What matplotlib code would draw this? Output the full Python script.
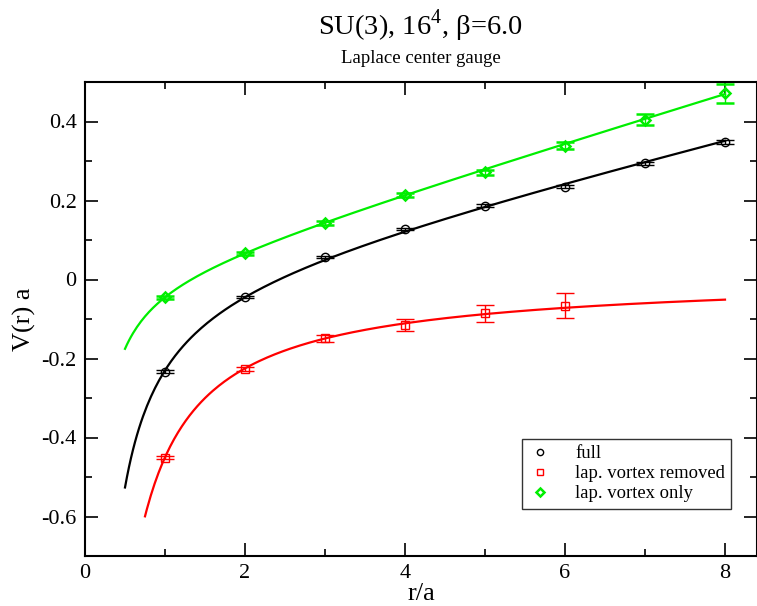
import numpy as np
import matplotlib
matplotlib.use('Agg')
import matplotlib.pyplot as plt
from matplotlib.lines import Line2D
from matplotlib.ticker import MultipleLocator

plt.rcParams['font.family'] = ['Liberation Serif', 'DejaVu Serif']
plt.rcParams['mathtext.fontset'] = 'custom'
plt.rcParams['mathtext.rm'] = 'Liberation Serif'

# static quark potential, r/a = 1..8
r_full = [1, 2, 3, 4, 5, 6, 7, 8]
v_full = [-0.233, -0.045, 0.057, 0.128, 0.187, 0.235, 0.294, 0.349]
e_full = [0.003, 0.003, 0.003, 0.003, 0.004, 0.004, 0.004, 0.005]

r_rem = [1, 2, 3, 4, 5, 6]
v_rem = [-0.451, -0.226, -0.149, -0.116, -0.086, -0.066]
e_rem = [0.004, 0.005, 0.008, 0.015, 0.021, 0.032]

r_vort = [1, 2, 3, 4, 5, 6, 7, 8]
v_vort = [-0.045, 0.066, 0.143, 0.214, 0.271, 0.339, 0.405, 0.471]
e_vort = [0.004, 0.004, 0.004, 0.005, 0.006, 0.008, 0.014, 0.025]

# Cornell fits V(r) = c - alpha/r + sigma*r : (c, alpha, sigma, r_min, r_max)
fit_full = (-0.007, 0.272, 0.049, 0.5, 8.0)
fit_rem = (-0.003, 0.448, 0.001, 0.75, 8.0)
fit_vort = (-0.006, 0.100, 0.061, 0.5, 8.0)


def cornell(p):
    c, alpha, sigma, r0, r1 = p
    r = np.linspace(r0, r1, 300)
    return r, c - alpha / r + sigma * r


fig = plt.figure(figsize=(7.57, 6.06), dpi=100)
ax = fig.add_axes([85 / 757, 50 / 606, 672 / 757, 474 / 606])

series = [
    (r_full, v_full, e_full, fit_full, 'black', 'o', 'full', 1.0),
    (r_rem, v_rem, e_rem, fit_rem, 'red', 's', 'lap. vortex removed', 1.0),
    (r_vort, v_vort, e_vort, fit_vort, '#00ee00', 'D', 'lap. vortex only', 1.8),
]

handles = []
for r, v, e, fit, col, mk, lab, mew in series:
    rr, vv = cornell(fit)
    ax.plot(rr, vv, color=col, lw=1.6, zorder=2)
    ms = 5.5 if mk == 'D' else 6
    ax.errorbar(r, v, yerr=e, fmt=mk, color=col, mfc='none', mec=col,
                ms=ms, mew=mew, elinewidth=1.0,
                capsize=6.5, capthick=1.0, ls='none', zorder=3)
    handles.append(Line2D([], [], ls='none', marker=mk, mfc='none', mec=col,
                          ms=ms - 1.5, mew=mew, label=lab))

ax.set_xlim(0, 8.4)
ax.set_ylim(-0.7, 0.5)
ax.xaxis.set_major_locator(MultipleLocator(2))
ax.xaxis.set_minor_locator(MultipleLocator(1))
ax.yaxis.set_minor_locator(MultipleLocator(0.1))
ax.set_yticks([-0.6, -0.4, -0.2, 0, 0.2, 0.4])
ax.set_yticklabels(['-0.6', '-0.4', '-0.2', '0', '0.2', '0.4'])
ax.tick_params(which='both', direction='in', top=True, right=True,
               labelsize=16, width=1.2)
ax.tick_params(which='major', length=9.5, pad=6)
ax.tick_params(which='minor', length=5)
for s in ax.spines.values():
    s.set_linewidth(1.5)

ax.set_xlabel('r/a', fontsize=19, labelpad=0)
ax.set_ylabel('V(r) a', fontsize=19, labelpad=4)

fig.text(0.556, 0.958, r'SU(3), 16$^{4}$, β=6.0', ha='center', va='center',
         fontsize=20.5)
fig.text(0.556, 0.904, 'Laplace center gauge', ha='center', va='center',
         fontsize=13.5)

leg = ax.legend(handles=handles, loc='lower right',
                bbox_to_anchor=(0.962, 0.1),
                fontsize=13.4, frameon=True, fancybox=False, edgecolor='black',
                handlelength=1.2, handletextpad=1.3, borderpad=0.35,
                labelspacing=0.15, borderaxespad=0)
leg.get_frame().set_linewidth(1.0)

fig.savefig('out.png', dpi=100)
